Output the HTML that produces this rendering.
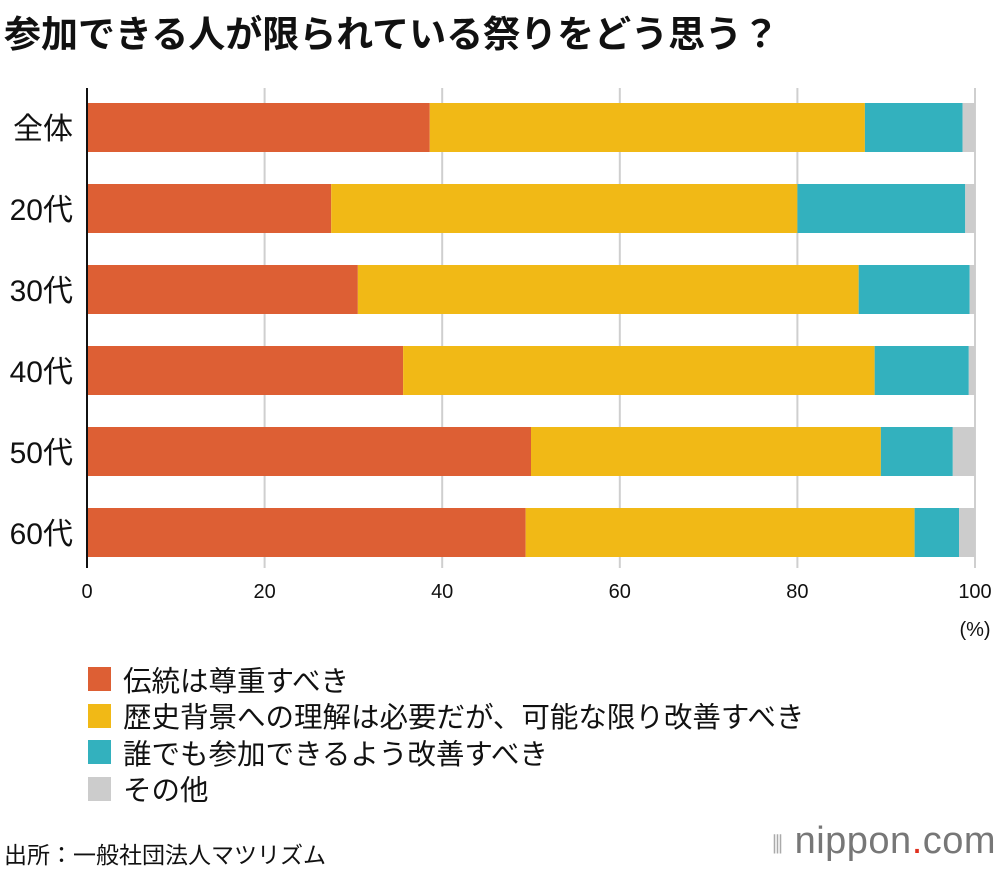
<!DOCTYPE html>
<html><head><meta charset="utf-8"><style>
body{margin:0;width:1000px;height:870px;background:#fff;font-family:"Liberation Sans","Noto Sans CJK JP",sans-serif;color:#111;position:relative;overflow:hidden}
.t{position:absolute;white-space:nowrap}
</style></head><body>
<div class="t" style="left:4px;top:4px;font-size:37px;font-weight:bold">参加できる人が限られている祭りをどう思う？</div>
<svg id="c" width="1000" height="650" style="position:absolute;left:0;top:0"></svg>
<div style="position:absolute;left:88px;top:661px">
<div style="height:36.5px;display:flex;align-items:center;font-size:28.5px"><span style="width:23px;height:24px;background:#dd5f34;margin-right:12px"></span>伝統は尊重すべき</div>
<div style="height:36.5px;display:flex;align-items:center;font-size:28.5px"><span style="width:23px;height:24px;background:#f1b916;margin-right:12px"></span>歴史背景への理解は必要だが、可能な限り改善すべき</div>
<div style="height:36.5px;display:flex;align-items:center;font-size:28.5px"><span style="width:23px;height:24px;background:#33b1be;margin-right:12px"></span>誰でも参加できるよう改善すべき</div>
<div style="height:36.5px;display:flex;align-items:center;font-size:28.5px"><span style="width:23px;height:24px;background:#cccccc;margin-right:12px"></span>その他</div>
</div>
<div class="t" style="left:4px;top:836px;font-size:23px">出所：一般社団法人マツリズム</div>
<div class="t" style="left:772px;top:820px;font-size:38px;color:#777;letter-spacing:0.5px"><span style="font-size:25px;color:#aaa">⦀</span> nippon<span style="color:#e0301e">.</span>com</div>
<script>
const categories=["全体","20代","30代","40代","50代","60代"];
const tradition=[38.6,27.5,30.5,35.6,50.0,49.4];
const improveLimited=[49.0,52.5,56.4,53.1,39.4,43.8];
const anyone=[11.0,18.9,12.5,10.6,8.1,5.0];
const other=[1.4,1.1,0.6,0.7,2.5,1.8];
const ticks=[0,20,40,60,80,100];
const series=[tradition,improveLimited,anyone,other];
const colors=["#dd5f34","#f1b916","#33b1be","#cccccc"];
const names=["tradition","improve-limited","anyone","other"];
const svg=document.getElementById('c');const NS="http://www.w3.org/2000/svg";
const x=v=>87+v*8.88; const y=i=>103+i*81;
function mk(t,a){const e=document.createElementNS(NS,t);for(const k in a)e.setAttribute(k,a[k]);svg.appendChild(e);return e;}
ticks.forEach(t=>{if(t>0){const l=mk('line',{x1:x(t),x2:x(t),y1:88,y2:568,stroke:'#cfcfcf','stroke-width':2});

}
const tx=mk('text',{x:x(t),y:598,'text-anchor':'middle','font-size':20,fill:'#111'});tx.textContent=t;

});
const pc=mk('text',{x:975,y:636,'text-anchor':'middle','font-size':20,fill:'#111'});pc.textContent='(%)';


categories.forEach((c,i)=>{let acc=0;series.forEach((s,j)=>{const r=mk('rect',{x:x(acc),y:y(i),width:s[i]*8.88,height:49,fill:colors[j]});

acc+=s[i];});
const tl=mk('text',{x:73,y:y(i)+36,'text-anchor':'end','font-size':30,fill:'#111'});tl.textContent=c;

});
const ax=mk('line',{x1:87,x2:87,y1:88,y2:568,stroke:'#111','stroke-width':2});


</script>
</body></html>
